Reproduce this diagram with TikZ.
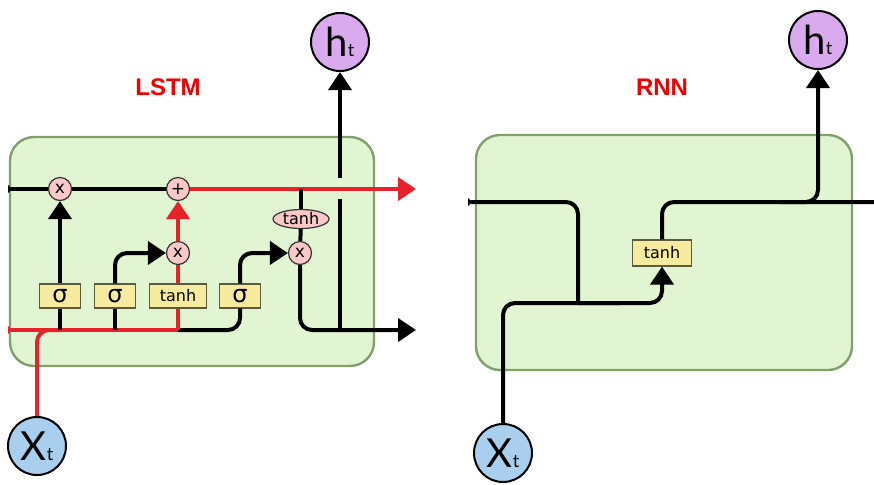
\documentclass[tikz,border=0pt]{standalone}
\usepackage{fontspec}
\setmainfont{DejaVu Sans}
\newfontfamily\titlefont{Liberation Sans}
\newfontfamily\statefont{Lato}
\usetikzlibrary{arrows.meta,positioning,fit,shapes.geometric}
\definecolor{cellfill}{HTML}{E1F5D2}
\definecolor{celldraw}{HTML}{82A06E}
\definecolor{opfill}{HTML}{F9C9C9}
\definecolor{gatefill}{HTML}{F7EBA0}
\definecolor{gatedraw}{HTML}{5B5B3B}
\definecolor{hfill}{HTML}{DAAAEE}
\definecolor{xfill}{HTML}{AACFEE}
\definecolor{flowred}{HTML}{E8222A}
\definecolor{titlered}{HTML}{F00000}
\newcommand{\sub}[1]{{\fontsize{9}{9}\selectfont #1}}

\begin{document}
\begin{tikzpicture}[
  x=0.5pt,y=-0.5pt,
  font=\fontsize{8}{9}\selectfont,
  cellbox/.style={
    draw=celldraw,
    fill=cellfill,
    line width=1.2pt,
    rounded corners=12pt,
    inner sep=0pt
  },
  op/.style={
    draw=black!80,
    circle,
    fill=opfill,
    line width=0.6pt,
    minimum size=11.5pt,
    inner sep=0pt,
    font=\fontsize{8.5}{8.5}\selectfont
  },
  gate/.style={
    draw=gatedraw,
    fill=gatefill,
    line width=0.6pt,
    minimum width=20.5pt,
    minimum height=12pt,
    inner sep=0pt
  },
  sigma/.style={gate,font=\fontsize{12}{12}\selectfont},
  squash/.style={
    draw=black!80,
    ellipse,
    fill=opfill,
    line width=0.6pt,
    minimum width=28pt,
    minimum height=9.5pt,
    inner sep=0pt
  },
  state/.style={
    draw=black,
    circle,
    line width=1pt,
    minimum size=29pt,
    inner sep=0pt,
    font=\statefont\fontsize{20}{20}\selectfont
  },
  title/.style={font=\titlefont\bfseries\fontsize{12}{14}\selectfont,text=titlered},
  line/.style={line width=2pt,draw=black,rounded corners=6pt},
  arrow/.style={line,-{Triangle[length=9pt,width=11.5pt]}},
  redline/.style={line,draw=flowred},
  redarrow/.style={redline,-{Triangle[length=9pt,width=11.5pt]},fill=flowred},
  stub/.style={line,{Triangle[reversed,length=2pt,width=4pt]}-}
]
\useasboundingbox (0,0) rectangle (874,484);

% 1. LSTM cell
\node[cellbox,fit={(10,137) (374,366)}] (lstmbox) {};
\node[title] (lstmlabel) at (168,87) {LSTM};

\node[op] (fmul) at (60,189) {x};
\node[op] (plus) at (178,189) {+};
\node[op] (imul) at (178,253) {x};
\node[op] (omul) at (300,253) {x};
\node[squash] (ctanh) at (301,219) {tanh};

\node[sigma] (fgate) at (60,296) {σ};
\node[sigma] (igate) at (115,296) {σ};
\node[gate,minimum width=28.5pt] (cgate) at (178,296) {tanh};
\node[sigma] (ogate) at (240,296) {σ};

\node[state,fill=hfill] (lht) at (340,42) {h\sub{t}};
\node[state,fill=xfill] (lxt) at (37,446) {X\sub{t}};

\coordinate (cin) at (8,189);
\coordinate (cout) at (416,189);
\coordinate (ctap) at (301,189);
\coordinate (hin) at (8,330);
\coordinate (hout) at (416,330);
\coordinate (jf) at (60,330);
\coordinate (ji) at (115,330);
\coordinate (jc) at (178,330);
\coordinate (jh) at (340,331);
\coordinate (gapb) at (340,199);
\coordinate (gapt) at (340,178);

% LSTM connections
\draw[stub] (cin) -- (fmul);
\draw[line] (fmul) -- (plus);
\draw[redarrow] (plus) -- (cout);
\draw[line] (ctap) -- (ctanh);
\draw[line] (ctanh) -- (omul);

\draw[stub,draw=flowred] (hin) -- (jc);
\draw[line] (jc) -| (ogate);
\draw[redline] (lxt) |- (jf);

\draw[line] (jf) -- (fgate);
\draw[arrow] (fgate) -- (fmul);
\draw[line] (ji) -- (igate);
\draw[arrow] (igate) |- (imul);
\draw[redline] (jc) -- (cgate);
\draw[redline] (cgate) -- (imul);
\draw[redarrow] (imul) -- (plus);
\draw[arrow] (ogate) |- (omul);

\draw[arrow] (omul) |- (hout);
\draw[line,rounded corners=0pt] (jh) -- (gapb);
\draw[arrow] (gapt) -- (lht);

% 2. RNN cell
\node[cellbox,fit={(476,135) (852,370)}] (rnnbox) {};
\node[title] (rnnlabel) at (662,87) {RNN};

\node[gate,minimum width=29.5pt,minimum height=13pt] (rtanh) at (662,253) {tanh};
\node[state,fill=hfill] (rht) at (818,40) {h\sub{t}};
\node[state,fill=xfill] (rxt) at (503,453) {X\sub{t}};

\coordinate (rin) at (468,202);
\coordinate (rjoin) at (578,303);
\coordinate (rmid) at (620,303);
\coordinate (rsplit) at (780,202);
\coordinate (rout) at (874,202);

% RNN connections
\draw[stub] (rin) -| (rjoin);
\draw[arrow] (rjoin) -| (rtanh);
\draw[line] (rxt) |- (rmid);
\draw[line] (rtanh) |- (rout);
\draw[arrow] (rsplit) -| (rht);

\end{tikzpicture}
\end{document}
